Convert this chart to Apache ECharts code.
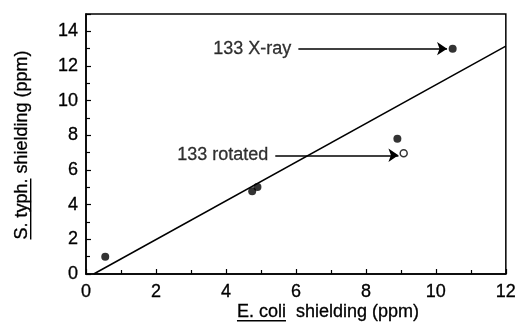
<!DOCTYPE html>
<html>
<head>
<meta charset="utf-8">
<script src="https://cdn.jsdelivr.net/npm/echarts@6/dist/echarts.min.js"></script>
<style>
  html, body { margin: 0; padding: 0; background: #fff; }
  #chart { width: 519px; height: 324px; }
</style>
</head>
<body>
<div id="chart"></div>
<script>
// Shielding (ppm): E. coli on x, S. typh. on y
const filledPoints = [[0.55, 1.0], [4.75, 4.78], [4.9, 5.02], [8.9, 7.8], [10.48, 13.0]];
const openPoints = [[9.08, 6.96]];
const fitLine = [[0.22, 0], [12, 13.15]];
const xTickLabels = ['0', '2', '4', '6', '8', '10', '12'];
const yTickLabels = ['0', '2', '4', '6', '8', '10', '12', '14'];
const noteTexts = ['133 X-ray', '133 rotated'];
const noteStarts = [[6.07, 13.0], [5.41, 6.85]];
const noteEnds = [[10.32, 13.0], [8.93, 6.85]];

const FONT_FAMILY = '"Liberation Sans", Arial, Helvetica, sans-serif';
const TEXT_SIZE = 18;
const INK = { color: '#000', textBorderColor: '#000', textBorderWidth: 0.3 };

function textWidth(str, size) {
  const ctx = document.createElement('canvas').getContext('2d');
  ctx.font = size + 'px ' + FONT_FAMILY;
  return ctx.measureText(str).width;
}

// axis titles with the organism name underlined
function underlinedTitle(first, rest, cx, cy, rotation) {
  const full = first + rest;
  const w = textWidth(full, TEXT_SIZE);
  const wFirst = textWidth(first, TEXT_SIZE);
  return {
    type: 'group', x: cx, y: cy, rotation: rotation,
    children: [
      { type: 'text', x: -w / 2, y: 0,
        style: { text: full, font: TEXT_SIZE + 'px ' + FONT_FAMILY, fill: '#000',
                 stroke: '#000', lineWidth: 0.3,
                 textAlign: 'left', textVerticalAlign: 'middle' } },
      { type: 'rect', shape: { x: -w / 2, y: 8, width: wFirst, height: 1.4 },
        style: { fill: '#000' } }
    ]
  };
}

const chart = echarts.init(document.getElementById('chart'), null, { renderer: 'canvas' });

const option = {
  animation: false,
  backgroundColor: '#fff',
  grid: { left: 86, right: 13, top: 14, bottom: 50, show: true,
          borderColor: '#000', borderWidth: 1.5, backgroundColor: 'transparent' },
  xAxis: {
    type: 'value', min: 0, max: 12, interval: 2,
    axisLine: { show: true, lineStyle: { color: '#000', width: 1.5 } },
    axisTick: { show: true, inside: true, length: 5, lineStyle: { color: '#000', width: 1.2 } },
    minorTick: { show: true, splitNumber: 2, length: 4, lineStyle: { color: '#000', width: 1.2 } },
    splitLine: { show: false },
    axisLabel: Object.assign({ fontSize: TEXT_SIZE, fontFamily: FONT_FAMILY, margin: 9,
                 formatter: v => xTickLabels[Math.round(v / 2)] }, INK)
  },
  yAxis: {
    type: 'value', min: 0, max: 15, interval: 2,
    axisLine: { show: true, lineStyle: { color: '#000', width: 1.5 } },
    axisTick: { show: true, inside: true, length: 5, lineStyle: { color: '#000', width: 1.2 } },
    minorTick: { show: true, splitNumber: 2, length: 4, lineStyle: { color: '#000', width: 1.2 } },
    splitLine: { show: false },
    axisLabel: Object.assign({ fontSize: TEXT_SIZE, fontFamily: FONT_FAMILY, margin: 8,
                 showMaxLabel: false,
                 formatter: v => (v % 2 === 0 && yTickLabels[v / 2] !== undefined) ? yTickLabels[v / 2] : '' }, INK)
  },
  series: [
    {
      type: 'line', data: fitLine, symbol: 'none',
      lineStyle: { color: '#000', width: 1.5 }, z: 2
    },
    {
      type: 'scatter', data: filledPoints, symbol: 'circle', symbolSize: 8,
      itemStyle: { color: '#000' }, z: 3
    },
    {
      type: 'scatter', data: openPoints, symbol: 'circle', symbolSize: 7,
      itemStyle: { color: '#fff', borderColor: '#000', borderWidth: 1.5 }, z: 3
    },
    {
      type: 'lines', coordinateSystem: 'cartesian2d',
      data: noteStarts.map((s, i) => ({ coords: [s, noteEnds[i]] })),
      symbol: ['none', 'arrow'], symbolSize: 10,
      lineStyle: { color: '#000', width: 1.5, opacity: 1, curveness: 0 }, z: 3
    },
    {
      type: 'scatter', symbolSize: 0, silent: true,
      data: noteStarts.map((s, i) => ({ value: s, name: noteTexts[i] })),
      label: Object.assign({ show: true, position: 'left', distance: 7,
               fontSize: TEXT_SIZE, fontFamily: FONT_FAMILY, formatter: p => p.name }, INK),
      z: 4
    }
  ],
  graphic: [
    underlinedTitle('E. coli', '  shielding (ppm)', 328, 312, 0),
    underlinedTitle('S. typh.', ' shielding (ppm)', 22, 145, Math.PI / 2)
  ]
};

chart.setOption(option);
</script>
</body>
</html>
